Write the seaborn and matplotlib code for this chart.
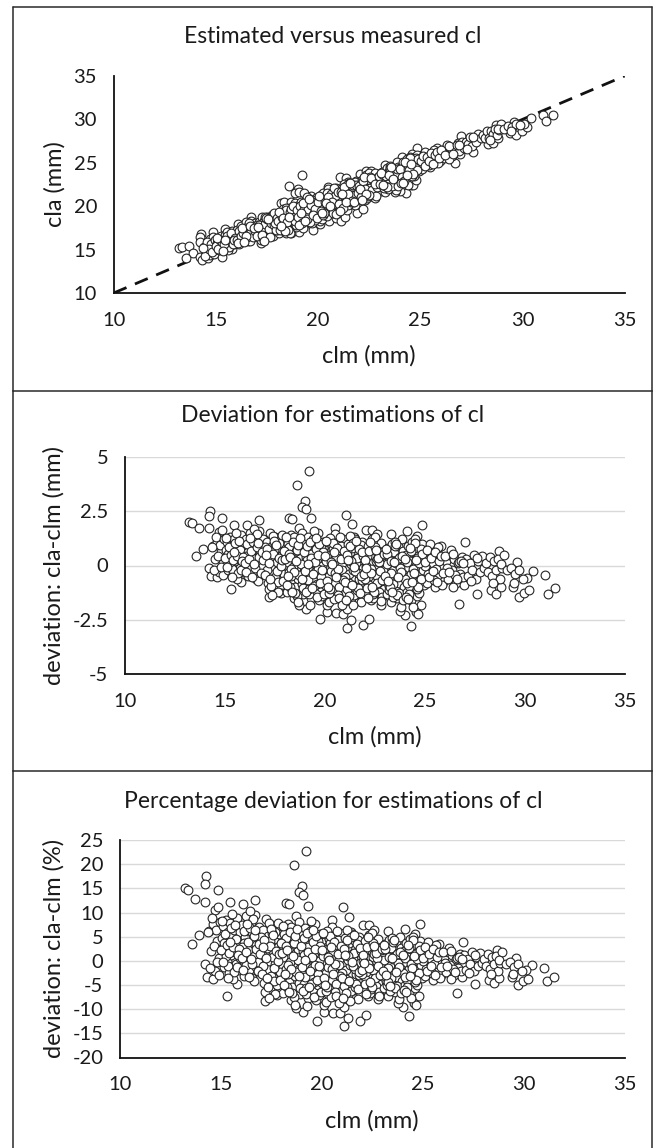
import matplotlib
matplotlib.use("Agg")
import matplotlib.pyplot as plt
from matplotlib.lines import Line2D
from matplotlib.ticker import FuncFormatter
import seaborn as sns
import numpy as np
import pandas as pd

# ---------------- data ----------------
# measured length clm (mm) and deviation cla - clm (mm) of each specimen
clm_mm = [
    # edge / outlying points
    13.2, 13.35, 13.7, 13.9, 13.55, 14.25, 14.2, 14.2, 14.85, 14.2,
    14.3, 14.6, 14.7, 14.85, 15.3, 15.8, 15.45, 16.1, 16.7, 17.2,
    18.2, 18.35, 18.6, 19.2, 19.0, 18.85, 19.05, 19.3, 18.7, 19.05,
    18.7, 19.75, 20.1, 20.1, 20.55, 20.9, 21.1, 21.1, 21.3, 21.9,
    22.2, 21.05, 21.35, 20.5, 22.05, 22.35, 22.6, 23.3, 24.1, 24.85,
    24.6, 24.3, 24.55, 24.65, 24.0, 23.75, 27.0, 26.7, 27.6, 28.3,
    28.55, 28.8, 29.4, 29.7, 29.97, 30.2, 30.4, 31.0, 31.15, 31.5,
    29.6, 30.1, 28.7,
    # 14-15
    14.4, 14.5, 14.6, 14.7, 14.8, 14.9, 14.45, 14.55, 14.75, 14.9, 14.65, 14.35, 14.95, 14.8,
    # 15-16
    15.05, 15.1, 15.15, 15.2, 15.25, 15.3, 15.35, 15.4, 15.45, 15.5, 15.55, 15.6, 15.65,
    15.7, 15.75, 15.8, 15.85, 15.9, 15.95, 15.15, 15.35, 15.55, 15.75, 15.95, 15.25, 15.65,
    # 16-17
    16.05, 16.1, 16.15, 16.2, 16.25, 16.3, 16.35, 16.4, 16.45, 16.5, 16.55, 16.6, 16.65, 16.7, 16.75,
    16.8, 16.85, 16.9, 16.95, 16.15, 16.35, 16.55, 16.75, 16.95, 16.25, 16.45, 16.65, 16.85, 16.05, 16.6,
    # 17-18
    17.05, 17.1, 17.15, 17.2, 17.25, 17.3, 17.35, 17.4, 17.45, 17.5, 17.55, 17.6, 17.65, 17.7, 17.75, 17.8,
    17.85, 17.9, 17.95, 17.1, 17.3, 17.5, 17.7, 17.9, 17.2, 17.4, 17.6, 17.8, 17.0, 17.65, 17.85, 17.45,
    # 18-19
    18.05, 18.1, 18.15, 18.2, 18.25, 18.3, 18.35, 18.4, 18.45, 18.5, 18.55, 18.6, 18.65, 18.7, 18.75, 18.8, 18.85, 18.9,
    18.95, 18.1, 18.3, 18.5, 18.7, 18.9, 18.2, 18.4, 18.6, 18.8, 18.0, 18.65, 18.95, 18.45, 18.25, 18.85, 18.55,
    # 19-20
    19.05, 19.1, 19.15, 19.2, 19.25, 19.3, 19.35, 19.4, 19.45, 19.5, 19.55, 19.6, 19.65, 19.7, 19.75, 19.8, 19.85, 19.9,
    19.95, 19.1, 19.3, 19.5, 19.7, 19.9, 19.2, 19.4, 19.6, 19.8, 19.0, 19.25, 19.45, 19.65, 19.85, 19.35, 19.55, 19.15,
    # 20-21
    20.05, 20.1, 20.15, 20.2, 20.25, 20.3, 20.35, 20.4, 20.45, 20.5, 20.55, 20.6, 20.65, 20.7, 20.75, 20.8, 20.85,
    20.9, 20.95, 20.1, 20.3, 20.5, 20.7, 20.9, 20.2, 20.4, 20.6, 20.8, 20.0, 20.65, 20.25, 20.85, 20.45,
    # 21-22
    21.05, 21.1, 21.15, 21.2, 21.25, 21.3, 21.35, 21.4, 21.45, 21.5, 21.55, 21.6, 21.65, 21.7, 21.75, 21.8, 21.85,
    21.9, 21.95, 21.1, 21.3, 21.5, 21.7, 21.9, 21.2, 21.4, 21.6, 21.8, 21.0, 21.65, 21.25, 21.85, 21.45,
    # 22-23
    22.05, 22.1, 22.15, 22.2, 22.25, 22.3, 22.35, 22.4, 22.45, 22.5, 22.55, 22.6, 22.65, 22.7, 22.75, 22.8,
    22.85, 22.9, 22.95, 22.1, 22.3, 22.5, 22.7, 22.9, 22.2, 22.4, 22.6, 22.8, 22.0, 22.55, 22.85,
    # 23-24
    23.05, 23.1, 23.15, 23.2, 23.25, 23.3, 23.35, 23.4, 23.45, 23.5, 23.55, 23.6, 23.65, 23.7, 23.75,
    23.8, 23.85, 23.9, 23.95, 23.1, 23.3, 23.5, 23.7, 23.9, 23.2, 23.4, 23.6, 23.0, 23.75,
    # 24-25
    24.05, 24.1, 24.15, 24.2, 24.25, 24.3, 24.35, 24.4, 24.45, 24.5, 24.55, 24.6, 24.65, 24.7, 24.75,
    24.8, 24.85, 24.9, 24.95, 24.1, 24.3, 24.5, 24.7, 24.9, 24.2, 24.4, 24.6, 24.0, 24.8,
    # 25-26
    25.05, 25.1, 25.2, 25.3, 25.4, 25.5, 25.6, 25.7, 25.8, 25.9,
    25.15, 25.35, 25.55, 25.75, 25.95, 25.25, 25.45, 25.65, 25.85, 25.0,
    # 26-27
    26.05, 26.15, 26.25, 26.35, 26.45, 26.55, 26.65, 26.75, 26.85, 26.95, 26.1, 26.3, 26.5, 26.7, 26.9, 26.4,
    # 27-28
    27.05, 27.15, 27.25, 27.35, 27.45, 27.55, 27.65, 27.75, 27.85, 27.95, 27.3, 27.6,
    # 28-29
    28.05, 28.15, 28.25, 28.35, 28.45, 28.55, 28.65, 28.75, 28.85, 28.95, 28.4, 28.8,
    # 29-30
    29.1, 29.3, 29.5, 29.7, 29.9, 29.45,
]

dev_mm = [
    # edge / outlying points
    2.0, 1.95, 1.75, 0.75, 0.46, 2.5, 2.26, 1.72, 2.18, -0.1,
    -0.48, -0.54, 1.54, 1.65, -1.1, -0.77, 1.88, 1.88, 2.1, -1.43,
    2.18, 2.15, 3.7, 4.37, 2.95, 2.68, 2.6, 2.18, 1.75, -2.0,
    -1.82, -2.46, -2.12, -1.82, -2.2, -2.25, -2.0, -2.86, -2.5, -2.74,
    -2.48, 2.34, 1.92, 1.72, 1.65, 1.65, 1.45, 1.46, 1.6, 1.88,
    1.37, -2.77, -2.12, -2.25, -2.28, -2.08, 1.06, -1.77, -1.3, -1.12,
    -1.32, -1.0, -1.0, -1.46, -1.28, -1.12, -0.27, -0.46, -1.3, -1.05,
    0.15, -0.58, 0.65,
    # 14-15
    0.9, 0.3, 1.1, -0.3, 0.6, 0.1, -0.2, 1.3, 0.95, -0.45, 0.45, 0.85, 1.2, -0.05,
    # 15-16
    0.7, 1.1, -0.2, 0.4, 1.3, 0.0, 0.9, -0.4, 1.2, 0.2, 0.8, -0.6, 1.0,
    0.3, -0.1, 1.4, 0.6, -0.3, 0.95, 0.55, -0.15, 1.5, 0.7, 0.1, 0.15, -0.35,
    # 16-17
    1.2, 0.2, -0.5, 0.8, 1.5, 0.0, 1.0, -0.3, 0.5, 1.3, -0.6, 0.7, 0.2, 1.6, -0.2,
    0.9, 0.4, 1.2, -0.4, 0.6, 0.35, 1.0, 0.55, 0.75, -0.15, 1.7, -0.7, -0.05, 0.45, 1.45,
    # 17-18
    0.3, 1.1, -0.8, 0.6, 1.5, -0.3, 0.9, 0.0, -1.0, 1.3, 0.4, -0.6, 0.8, -0.1, 1.2, -0.9,
    0.5, 1.0, -0.4, -0.2, 0.45, -0.55, 1.05, 0.2, -1.1, 1.35, 0.15, -1.25, 0.85, -0.75, 1.4, 0.7,
    # 18-19
    0.6, -1.2, 1.0, -0.3, 0.2, 1.4, -0.8, 0.5, -1.5, 0.9, -0.1, 1.2, -0.6, 0.3, -1.1, 0.8, 1.5, -0.4,
    0.0, 0.15, -0.5, -1.0, 1.0, -1.3, 0.85, -0.05, -1.4, 0.45, -0.7, -1.7, 1.1, 1.3, -1.0, -0.85, 0.65,
    # 19-20
    0.4, -0.9, 1.3, -0.2, 0.7, -1.5, 1.0, 0.1, -0.6, 0.9, -1.2, 0.3, 1.5, -0.4, 0.6, -1.0, 0.0, 1.1,
    -0.7, 0.25, 0.55, -0.3, -1.6, 0.45, -1.3, 1.2, -0.85, 0.8, -0.5, -1.8, 1.6, -0.15, -1.4, 0.15, 0.75, -0.65,
    # 20-21
    0.2, -1.0, 1.1, -0.5, 0.6, -1.4, 0.9, -0.1, 1.3, -0.8, 0.4, -1.2, 1.0, -0.3, 0.7, -1.6, 0.1,
    1.2, -0.6, 0.5, -0.25, 1.45, -1.0, 0.35, -1.7, 0.75, -0.45, 0.9, -0.9, -1.35, 1.25, -0.2, -1.55,
    # 21-22
    0.3, -1.1, 1.0, -0.4, 0.6, -1.5, 0.8, -0.2, 1.3, -0.9, 0.1, -1.3, 0.9, -0.6, 0.4, -1.7, 1.1,
    -0.1, -1.0, 0.65, 0.05, 1.2, -1.2, 0.55, -0.8, -1.8, 0.35, 0.95, -0.55, -0.35, 1.35, -0.65, -1.35,
    # 22-23
    0.0, -1.2, 0.9, -0.5, 0.5, -1.6, 1.2, -0.3, 0.7, -1.0, 0.2, -1.4, 1.0, -0.7, 0.4, -1.8,
    0.8, -0.2, -1.1, 0.45, -0.15, 1.3, -1.2, 0.6, -0.9, -1.5, 0.3, 1.05, -0.6, -0.45, -1.45,
    # 23-24
    0.3, -1.3, 0.8, -0.6, 0.5, -1.7, 1.0, -0.2, 0.6, -1.1, 0.1, -1.5, 0.9, -0.8, 0.4,
    -1.9, 1.2, -0.4, -1.0, 0.05, -0.35, 1.1, -1.25, 0.65, -0.95, -1.45, 0.25, -0.7, -0.1,
    # 24-25
    0.5, -1.2, 0.9, -0.5, 0.2, -1.6, 1.1, -0.3, 0.6, -1.0, 0.0, -1.4, 0.8, -0.7, 0.3,
    -1.8, 1.0, -0.2, -0.9, 0.15, -0.4, 1.2, -1.25, 0.5, -0.95, -1.9, 0.35, -0.6, 0.75,
    # 25-26
    0.4, -0.8, 0.8, -0.3, 0.1, -1.0, 0.6, -0.5, 0.9, -0.1,
    -0.4, 0.55, -0.15, 0.3, -0.7, 1.0, -0.65, 0.85, -0.9, 0.0,
    # 26-27
    0.2, -0.6, 0.5, -0.2, 0.3, -0.8, 0.1, -0.4, 0.4, -0.9, -0.1, 0.7, -0.45, 0.15, -0.55, -1.0,
    # 27-28
    0.3, -0.5, 0.1, -0.2, 0.5, -0.6, 0.2, -0.3, 0.45, -0.1, -0.7, 0.35,
    # 28-29
    0.1, -0.3, 0.4, -0.5, 0.2, -0.2, 0.3, -0.6, -0.1, 0.5, -0.8, 0.05,
    # 29-30
    -0.2, -0.1, -0.4, -0.2, -0.6, -0.8,
]

# further specimens in the densely packed core of the cloud
clm_core_mm = [
    15.02, 15.12, 15.22, 15.32, 15.42, 15.52, 15.62, 15.72, 15.82, 15.92, 15.07, 15.47, 15.87, 15.37,
    16.02, 16.12, 16.22, 16.32, 16.42, 16.52, 16.62, 16.72, 16.82, 16.92, 16.07, 16.27, 16.47, 16.67, 16.87, 16.37,
    17.02, 17.12, 17.22, 17.32, 17.42, 17.52, 17.62, 17.72, 17.82, 17.92, 17.07, 17.27, 17.47, 17.67, 17.87, 17.37, 17.57, 17.97,
    18.02, 18.12, 18.22, 18.32, 18.42, 18.52, 18.62, 18.72, 18.82, 18.92, 18.07, 18.27, 18.47, 18.67, 18.87, 18.37, 18.57, 18.77, 18.17, 18.97,
    19.02, 19.12, 19.22, 19.32, 19.42, 19.52, 19.62, 19.72, 19.82, 19.92, 19.07, 19.27, 19.47, 19.67, 19.87, 19.37, 19.57, 19.77, 19.17, 19.97,
    20.02, 20.12, 20.22, 20.32, 20.42, 20.52, 20.62, 20.72, 20.82, 20.92, 20.07, 20.27, 20.47, 20.67, 20.87, 20.37, 20.57, 20.77, 20.17, 20.97,
    21.02, 21.12, 21.22, 21.32, 21.42, 21.52, 21.62, 21.72, 21.82, 21.92, 21.07, 21.27, 21.47, 21.67, 21.87, 21.37, 21.57, 21.77, 21.17, 21.97,
    22.02, 22.12, 22.22, 22.32, 22.42, 22.52, 22.62, 22.72, 22.82, 22.92, 22.07, 22.27, 22.47, 22.67, 22.87, 22.37, 22.57, 22.77, 22.17, 22.97,
    23.02, 23.12, 23.22, 23.32, 23.42, 23.52, 23.62, 23.72, 23.82, 23.92, 23.07, 23.27, 23.47, 23.67, 23.87, 23.37, 23.57, 23.17,
    24.02, 24.12, 24.22, 24.32, 24.42, 24.52, 24.62, 24.72, 24.82, 24.92, 24.07, 24.27, 24.47, 24.67, 24.87, 24.37, 24.57, 24.17,
    25.02, 25.12, 25.22, 25.32, 25.42, 25.52, 25.62, 25.72, 25.82, 25.92,
    26.02, 26.22, 26.42, 26.62, 26.82, 26.92,
]
dev_core_mm = [
    0.35, -0.05, 0.85, 0.5, 0.25, 1.05, 0.45, 1.15, -0.2, 0.4, 1.25, 0.6, 0.2, -0.55,
    0.1, 1.0, 0.3, 0.65, 1.1, -0.1, 0.85, 0.4, -0.35, 0.25, -0.3, 1.25, 0.05, 1.05, 0.6, -0.55,
    -0.45, 0.75, 0.1, -0.95, 0.55, 1.0, -0.25, 0.35, 0.0, -0.7, 0.5, -0.6, 1.15, -1.2, 0.25, -1.35, 0.95, 0.65,
    0.3, -0.9, 0.55, -0.15, 1.1, -1.25, 0.7, -0.45, 0.05, -1.05, 1.3, 0.4, -0.3, 0.95, -0.6, -1.2, 0.2, 1.25, -0.5, 0.6,
    -0.25, 0.9, -1.1, 0.35, -0.4, 0.15, -1.45, 1.0, -0.55, 0.6, -1.2, 1.1, -0.95, 0.5, -0.2, -1.05, 1.25, -0.8, 0.05, -1.3,
    0.45, -0.7, -1.25, 0.15, 1.05, -0.35, 0.8, -1.5, 0.3, -0.65, 1.15, -1.1, 0.6, -0.15, -1.8, 0.05, -0.55, 1.3, -1.0, 0.65,
    -0.75, 0.5, -1.4, 0.2, 1.05, -0.25, -1.15, 0.75, -0.5, 0.45, -1.6, 0.9, -0.05, -1.05, 0.6, -0.9, 1.15, -1.25, 0.25, -0.4,
    0.25, -1.05, 0.65, -0.35, -1.3, 0.85, -0.8, 0.15, -1.65, 0.5, -0.1, 1.1, -1.2, 0.35, -0.65, -1.0, 0.7, -0.25, -1.5, 0.55,
    -0.5, 0.55, -1.15, 0.2, -0.85, 0.9, -1.35, 0.35, -0.3, -1.6, 0.75, -1.0, 0.15, -0.55, 0.45, -1.2, 1.0, -0.7,
    0.3, -0.8, -1.3, 0.65, -0.15, 1.05, -1.1, 0.1, -0.6, 0.45, -1.45, 0.8, -0.35, -1.0, 0.55, -0.75, 0.25, -1.55,
    0.15, 0.7, -0.55, 0.35, -0.25, 0.6, -0.75, 0.2, 0.45, -0.35,
    0.45, -0.3, 0.55, -0.6, 0.2, 0.1,
]

identity_line = [10, 35]          # 1:1 reference line (mm)
x_ticks = [10, 15, 20, 25, 30, 35]
y1_ticks = [10, 15, 20, 25, 30, 35]
y2_ticks = [-5, -2.5, 0, 2.5, 5]
y3_ticks = [-20, -15, -10, -5, 0, 5, 10, 15, 20, 25]

titles = ["Estimated versus measured cl",
          "Deviation for estimations of cl",
          "Percentage deviation for estimations of cl"]
xlabel = "clm (mm)"
ylabels = ["cla (mm)", "deviation: cla-clm (mm)", "deviation: cla-clm (%)"]

assert len(clm_mm) == len(dev_mm)
assert len(clm_core_mm) == len(dev_core_mm)
df = pd.DataFrame({"clm": clm_mm + clm_core_mm, "dev": dev_mm + dev_core_mm})
df["cla"] = df["clm"] + df["dev"]
df["pct"] = 100.0 * df["dev"] / df["clm"]

# ---------------- style ----------------
sns.set_theme(style="white")
plt.rcParams["font.family"] = ["Lato", "DejaVu Sans"]
plt.rcParams["axes.unicode_minus"] = False
TXT = "#1a1a1a"

W, H = 657, 1148
fig = plt.figure(figsize=(W / 100, H / 100), dpi=100)
fig.patch.set_facecolor("white")

def px_axes(left, right, top, bottom):
    return fig.add_axes([left / W, 1 - bottom / H, (right - left) / W, (bottom - top) / H])

ax1 = px_axes(113.7, 624.6, 76, 293)
ax2 = px_axes(125, 624.6, 457, 674)
ax3 = px_axes(120, 624.6, 840, 1057.5)

scatter_kw = dict(marker="o", s=40, facecolor="white", edgecolor="#262626",
                  linewidth=0.8, legend=False, zorder=3)

sns.lineplot(x=identity_line, y=identity_line, ax=ax1, color="#111111",
             linewidth=2.0, dashes=[(5, 3.3)], style=[0, 0], legend=False, zorder=2)
sns.scatterplot(data=df, x="clm", y="cla", ax=ax1, **scatter_kw)
sns.scatterplot(data=df, x="clm", y="dev", ax=ax2, **scatter_kw)
sns.scatterplot(data=df, x="clm", y="pct", ax=ax3, **scatter_kw)

fmt = FuncFormatter(lambda v, p: f"{v:g}")
for ax, yt, ylab, gx in [(ax1, y1_ticks, ylabels[0], -0.1155),
                          (ax2, y2_ticks, ylabels[1], -0.142),
                          (ax3, y3_ticks, ylabels[2], -0.131)]:
    ax.set_xlim(x_ticks[0], x_ticks[-1])
    ax.set_ylim(yt[0], yt[-1])
    ax.set_xticks(x_ticks)
    ax.set_yticks(yt)
    ax.xaxis.set_major_formatter(fmt)
    ax.yaxis.set_major_formatter(fmt)
    for s in ["top", "right"]:
        ax.spines[s].set_visible(False)
    for s in ["left", "bottom"]:
        ax.spines[s].set_color("#111111")
        ax.spines[s].set_linewidth(1.3)
        ax.spines[s].set_zorder(4)
    ax.tick_params(axis="both", direction="out", length=5, width=1.0,
                   color="#111111", labelsize=14.5, labelcolor=TXT)
    ax.tick_params(axis="x", pad=8.5)
    ax.tick_params(axis="y", pad=7)
    ax.set_xlabel(xlabel, fontsize=17, color=TXT)
    ax.set_ylabel(ylab, fontsize=17, color=TXT)
    ax.xaxis.set_label_coords(0.5, -0.29)
    ax.xaxis.label.set_va("center")
    ax.yaxis.set_label_coords(gx, 0.5)
    ax.yaxis.label.set_va("center")
    ax.set_facecolor("white")

for ax in (ax2, ax3):
    ax.grid(axis="y", color="#d9d9d9", linewidth=1.0, zorder=0)
    ax.set_axisbelow(True)

for t, yp in zip(titles, [36.7, 416, 801.7]):
    fig.text(333 / W, 1 - yp / H, t, ha="center", va="center", fontsize=16.5, color=TXT)

# panel frames
xl, xr = 13.3 / W, 651.7 / W
for yt_, yb_ in [(7.3, 390.7), (390.7, 770.7), (770.7, 1152)]:
    t_, b_ = 1 - yt_ / H, 1 - yb_ / H
    for xs, ys in [([xl, xr], [t_, t_]), ([xl, xl], [t_, b_]), ([xr, xr], [t_, b_])]:
        fig.add_artist(Line2D(xs, ys, transform=fig.transFigure, color="#2a2a2a", linewidth=1.1))

fig.savefig("out.png", dpi=100)
